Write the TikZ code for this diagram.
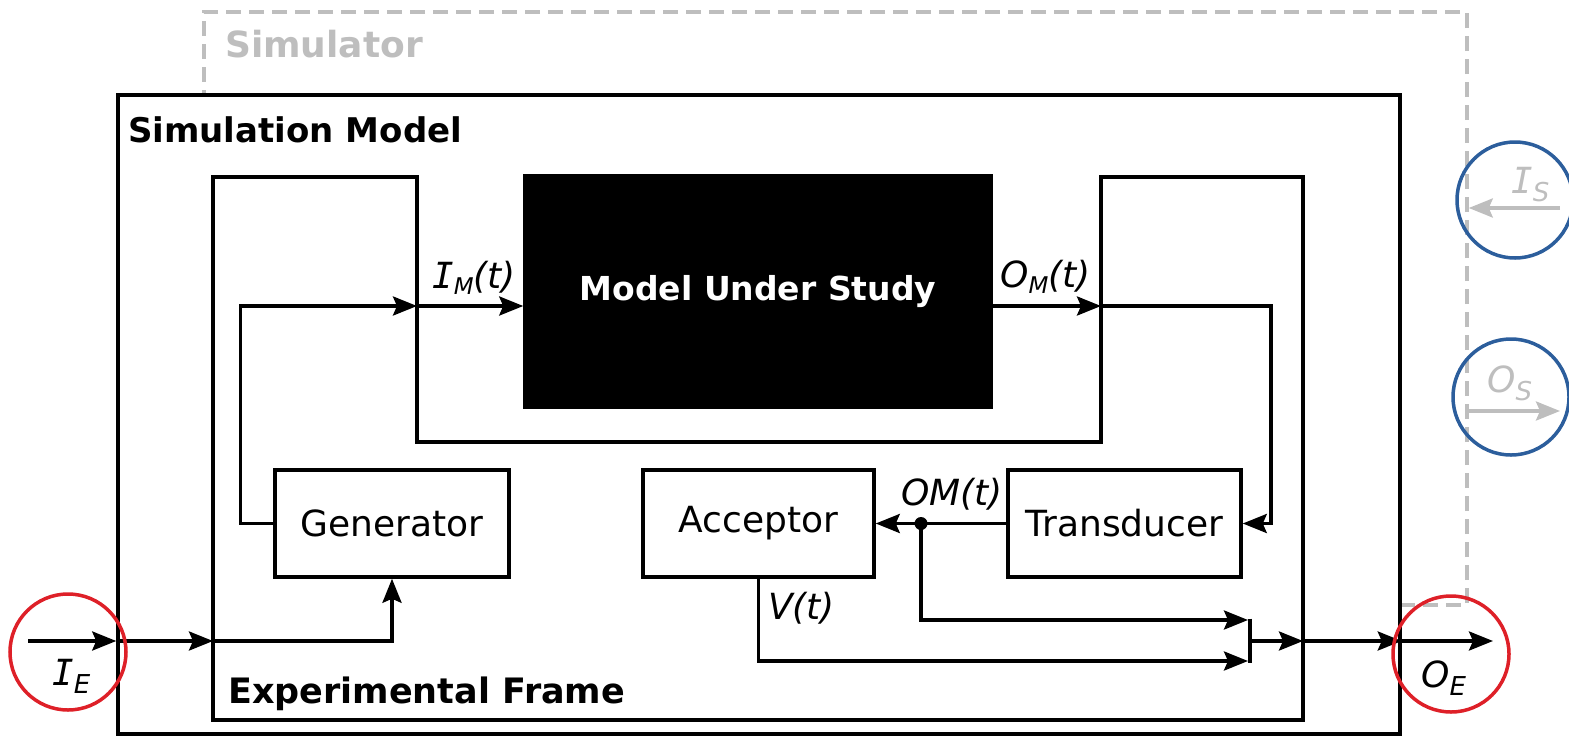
\documentclass[tikz,border=0pt]{standalone}
\usepackage{fontspec}
\setmainfont{DejaVu Sans}
\newfontfamily\serIfont{DejaVu Sans Mono}
\usetikzlibrary{arrows.meta}
\definecolor{simgray}{RGB}{190,190,190}
\definecolor{ringred}{RGB}{222,32,40}
\definecolor{ringblue}{RGB}{44,94,156}
% serifed capital I used in signal names
\newcommand\serI{{\serIfont\itshape I}}
% lowered subscript: size, drop, text
\newcommand\subsig[3]{\raisebox{-#2}{\fontsize{#1}{#1}\selectfont #3}}
\begin{document}
\begin{tikzpicture}[x=1pt,y=-1pt,
  wire/.style={line width=3.5pt},
  flow/.style={wire,-{Stealth[length=24pt,width=19pt,inset=4pt]}},
  block/.style={draw,line width=3.5pt,fill=white,inner sep=0pt,font=\fontsize{36}{40}\selectfont},
  heading/.style={anchor=base west,inner sep=0pt,font=\fontsize{35}{40}\selectfont\bfseries},
  sig/.style={anchor=base west,inner sep=0pt,font=\fontsize{36}{40}\selectfont\itshape},
  ring/.style={circle,line width=3.5pt,minimum size=116pt,inner sep=0pt}]
\useasboundingbox (0,0) rectangle (1569,737);

% simulator (dashed, partly hidden behind the simulation model)
\node[draw=simgray,line width=3.5pt,dash pattern=on 15pt off 8pt,
      minimum width=1263pt,minimum height=593pt,inner sep=0pt] (simulator) at (835.5,308.5) {};
\node[heading,text=simgray,font=\fontsize{36}{40}\selectfont\bfseries] (simlabel) at (225,57) {Simulator};

% simulation model
\node[draw,line width=3.5pt,fill=white,minimum width=1282pt,minimum height=639pt,inner sep=0pt]
  (simmodel) at (759,414.5) {};
\node[heading,font=\fontsize{34}{40}\selectfont\bfseries] (smlabel) at (128,142) {Simulation Model};

% experimental frame outline
\draw[wire] (213,177) -- (417,177) -- (417,442) -- (1101,442) -- (1101,177)
  -- (1303,177) -- (1303,720) -- (213,720) -- cycle;
\node[heading] (eflabel) at (228,703) {Experimental Frame};

% blocks
\node[draw,line width=3.5pt,fill=black,minimum width=466pt,minimum height=231pt,inner sep=0pt,
      text=white,font=\fontsize{33}{40}\selectfont\bfseries] (mus) at (758,291.5) {Model Under Study};
\node[block,minimum width=234pt,minimum height=107pt] (gen) at (392,523.5) {Generator};
\node[block,minimum width=231pt,minimum height=107pt] (acc) at (758.5,523.5) {Acceptor};
\node[block,minimum width=233pt,minimum height=107pt] (trans) at (1124.5,523.5) {Transducer};

% junction points
\coordinate (iein) at (28,641);
\coordinate (smin) at (simmodel.west |- iein);
\coordinate (efin) at (213,641);
\coordinate (imin) at (417,306);
\coordinate (omout) at (1101,306);
\coordinate (tap) at (921,523.5);
\coordinate (mergeA) at (1248,620);
\coordinate (mergeB) at (1248,661);
\coordinate (barTop) at (1250,618.5);
\coordinate (barBot) at (1250,662.5);
\coordinate (barMid) at (1250,641);
\coordinate (efout) at (1303,641);
\coordinate (smout) at (simmodel.east |- efout);
\coordinate (oeout) at (1493,641);
\coordinate (isin) at (1560,208);
\coordinate (osout) at (1560,411);

% signal flow
\draw[flow] (iein) -- (smin);
\draw[flow] (smin) -- (efin);
\draw[flow] (efin) -| (gen.south);
\draw[flow] (gen.west) -- ++(-33,0) |- (imin);
\draw[flow] (imin) -- (mus.west |- imin);
\draw[flow] (mus.east |- omout) -- (omout);
\draw[flow] (omout) -- (1271,306) |- (trans.east);
\draw[flow] (trans.west) -- (acc.east);
\fill (tap) circle (6.5pt);
\draw[flow] (tap) |- (mergeA);
\draw[flow] (acc.south) |- (mergeB);
\draw[wire] (barTop) -- (barBot);
\draw[flow] (barMid) -- (efout);
\draw[flow] (efout) -- (smout);
\draw[flow] (smout) -- (oeout);
\draw[flow,simgray] (isin) -- (simulator.east |- isin);
\draw[flow,simgray] (simulator.east |- osout) -- (osout);

% signal labels
\node[sig] (lIM) at (432,288) {\serI\subsig{23pt}{6pt}{M}(t)};
\node[sig] (lOM) at (1000,287) {O\subsig{23pt}{6pt}{M}(t)};
\node[sig] (lOMt) at (901,505) {OM(t)};
\node[sig] (lV) at (768,619) {V(t)};
\node[sig] (lIE) at (52,685) {\serI\subsig{26pt}{8pt}{E}};
\node[sig] (lOE) at (1421,687) {O\subsig{26pt}{8pt}{E}};
\node[sig,text=simgray] (lIS) at (1511,193) {\serI\subsig{26pt}{8pt}{S}};
\node[sig,text=simgray] (lOS) at (1487,392) {O\subsig{26pt}{8pt}{S}};

% highlight rings
\node[ring,draw=ringred] (ringIE) at (68,652) {};
\node[ring,draw=ringred] (ringOE) at (1451,654) {};
\node[ring,draw=ringblue] (ringIS) at (1515,200) {};
\node[ring,draw=ringblue] (ringOS) at (1511,397) {};
\end{tikzpicture}
\end{document}
